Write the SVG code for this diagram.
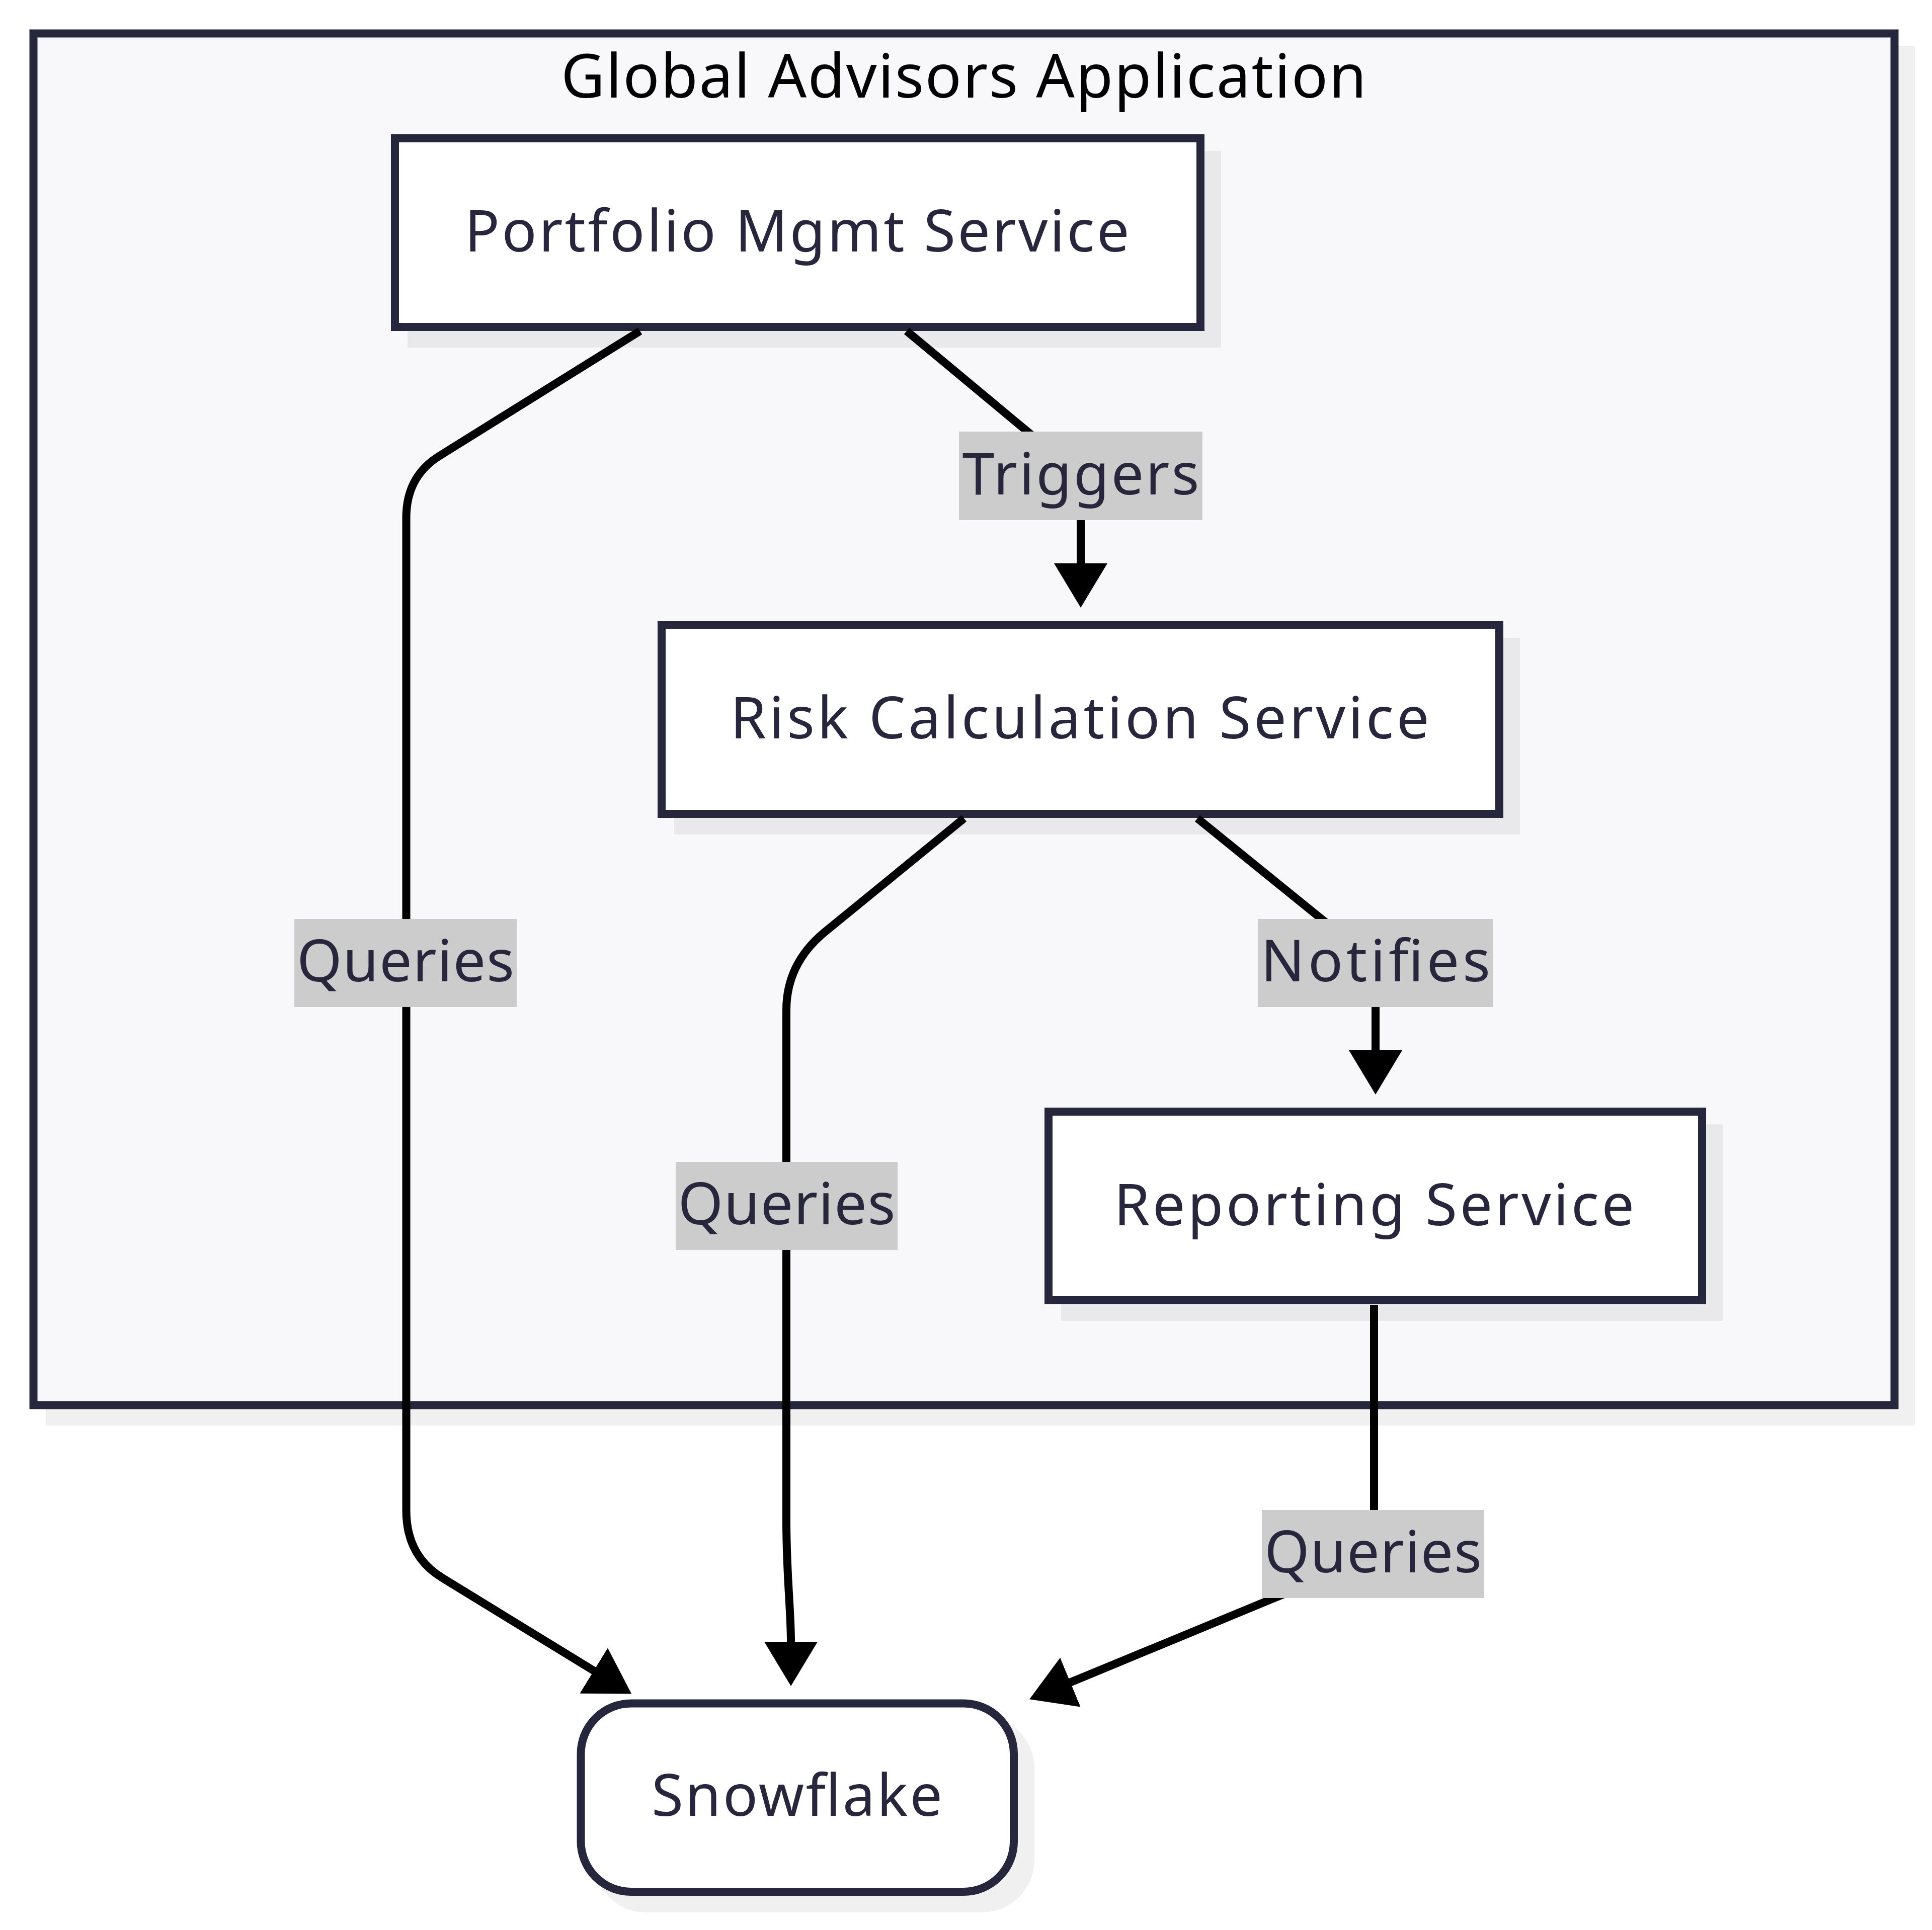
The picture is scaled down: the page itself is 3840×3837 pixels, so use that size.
<svg xmlns="http://www.w3.org/2000/svg" width="3840" height="3837" viewBox="0 0 3840 3837">
<defs>
<style>
.shadow{fill:#000;fill-opacity:0.06;}
.node{fill:#ffffff;stroke:#26263c;stroke-width:16;}
.cluster{fill:#f8f8fa;stroke:#26263c;stroke-width:16;}
.ntext{font-family:"Noto Sans","Liberation Sans",sans-serif;font-size:115px;fill:#28263d;text-anchor:middle;}
.title{font-family:"Noto Sans","Liberation Sans",sans-serif;font-size:120px;fill:#000;text-anchor:middle;}
.edge{fill:none;stroke:#000;stroke-width:16;marker-end:url(#arr);}
.lbg{fill:#cccccc;}
.ltext{font-family:"Noto Sans","Liberation Sans",sans-serif;font-size:115px;fill:#28263d;text-anchor:middle;}
</style>
<marker id="arr" markerUnits="userSpaceOnUse" markerWidth="88" markerHeight="106" viewBox="0 0 88 106" refX="1" refY="53" orient="auto">
<path d="M0,0 L88,53 L0,106 z" fill="#000"/>
</marker>
</defs>
<rect x="0" y="0" width="3840" height="3837" fill="#ffffff"/>
<g id="cluster-global-advisors">
<rect class="shadow" x="91" y="91" width="3715" height="2743"/>
<rect class="cluster" x="66.5" y="66.5" width="3699" height="2727"/>
<text class="title" x="1915.5" y="194" textLength="1601" lengthAdjust="spacing">Global Advisors Application</text>
</g>
<g id="node-portfolio">
<rect class="shadow" x="810" y="300" width="1617" height="391"/>
<rect class="node" x="785" y="275" width="1601" height="375"/>
<text class="ntext" x="1584" y="500" textLength="1321" lengthAdjust="spacing">Portfolio Mgmt Service</text>
</g>
<g id="node-risk">
<rect class="shadow" x="1340" y="1268" width="1681" height="391"/>
<rect class="node" x="1315" y="1243" width="1665" height="375"/>
<text class="ntext" x="2146" y="1468" textLength="1389" lengthAdjust="spacing">Risk Calculation Service</text>
</g>
<g id="node-reporting">
<rect class="shadow" x="2109" y="2235" width="1315" height="391"/>
<rect class="node" x="2084" y="2210" width="1299" height="375"/>
<text class="ntext" x="2731" y="2436" textLength="1034" lengthAdjust="spacing">Reporting Service</text>
</g>
<g id="node-snowflake">
<rect class="shadow" x="1179.5" y="3411.5" width="876.5" height="390.5" rx="104" ry="104"/>
<rect class="node" x="1154.5" y="3386.5" width="860.5" height="374.5" rx="100" ry="100"/>
<text class="ntext" x="1584" y="3610" textLength="578" lengthAdjust="spacing">Snowflake</text>
</g>
<g id="edges">
<path id="e-portfolio-snowflake" class="edge" d="M1272,658 L874,906 Q807.5,947 807.5,1029 L807.5,3003 Q807.5,3093 878.6,3136.6 L1181,3322"/>
<path id="e-portfolio-risk" class="edge" d="M1802,658 L2148,946 L2148,1121"/>
<path id="e-risk-snowflake" class="edge" d="M1916,1627 L1638,1854 Q1563,1916.5 1563,2008 L1563,3024 C1563,3130 1572,3200 1572,3265"/>
<path id="e-risk-reporting" class="edge" d="M2380,1627 L2734,1914 L2734,2089"/>
<path id="e-reporting-snowflake" class="edge" d="M2731,2594 L2731,3095 L2126.5,3345"/>
</g>
<g id="edge-labels">
<g id="l-triggers"><rect class="lbg" x="1906" y="858" width="484" height="176"/><text class="ltext" x="2148" y="983" textLength="471" lengthAdjust="spacing">Triggers</text></g>
<g id="l-queries-1"><rect class="lbg" x="585" y="1827" width="442" height="175"/><text class="ltext" x="806" y="1951" textLength="432" lengthAdjust="spacing">Queries</text></g>
<g id="l-queries-2"><rect class="lbg" x="1343" y="2310" width="441" height="175"/><text class="ltext" x="1563.5" y="2434" textLength="432" lengthAdjust="spacing">Queries</text></g>
<g id="l-notifies"><rect class="lbg" x="2500" y="1827" width="468" height="175"/><text class="ltext" x="2734" y="1951" textLength="456" lengthAdjust="spacing">Notifies</text></g>
<g id="l-queries-3"><rect class="lbg" x="2508" y="3002" width="442" height="175"/><text class="ltext" x="2729" y="3126" textLength="432" lengthAdjust="spacing">Queries</text></g>
</g>
</svg>
